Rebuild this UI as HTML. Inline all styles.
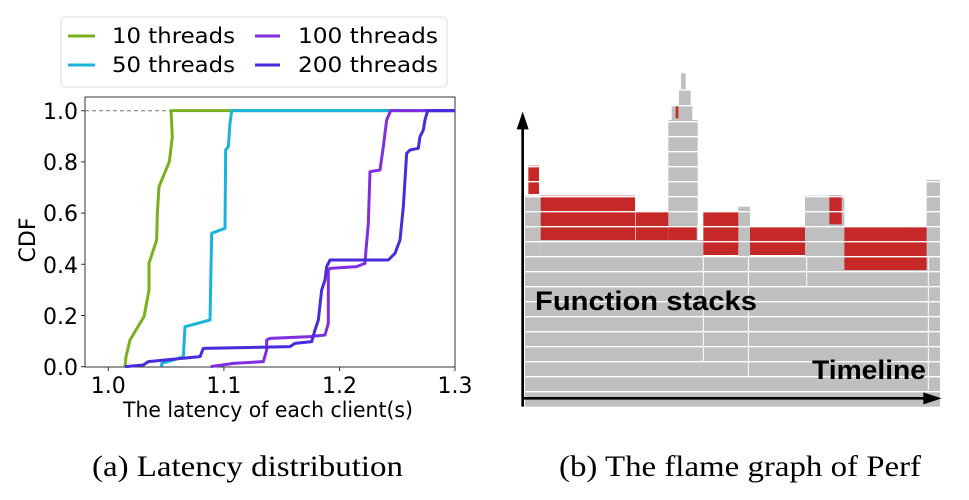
<!DOCTYPE html>
<html><head><meta charset="utf-8"><style>html,body{margin:0;padding:0;background:#fff}svg{display:block}</style></head>
<body>
<svg width="969" height="500" viewBox="0 0 969 500" xmlns="http://www.w3.org/2000/svg">
<g font-family="DejaVu Sans, Liberation Sans, sans-serif" fill="#000">
  <rect x="85" y="97" width="370" height="270" fill="none" stroke="#333" stroke-width="1"/>
  <line x1="85" y1="110.7" x2="455" y2="110.7" stroke="#777" stroke-width="1" stroke-dasharray="4,3"/>
  <g transform="translate(0,90) scale(0.33333)" fill="none" stroke-width="9" stroke-linejoin="round">
    <polyline stroke="#79b01c" points="375,830 378,800 390,750 432,680 447,600 447,520 470,450 472,370 477,290 508,215 517,140 513,62 1365,62"/>
    <polyline stroke="#1bb3d9" points="485,830 485,820 520,810 550,800 555,710 630,690 635,430 675,415 677,180 685,170 690,100 695,62 1365,62"/>
    <polyline stroke="#7f2fe0" points="632,830 700,820 790,815 800,780 800,750 810,745 930,740 975,735 985,700 985,540 990,535 1070,530 1095,520 1098,480 1105,400 1110,245 1140,240 1150,170 1160,90 1172,62 1365,62"/>
    <polyline stroke="#4a2ada" points="375,830 430,825 445,815 600,800 610,775 870,770 885,760 935,755 945,720 955,690 965,600 975,570 980,530 990,510 1165,510 1185,490 1200,450 1210,350 1220,190 1230,180 1255,175 1260,140 1270,120 1275,90 1283,62 1365,62"/>
  </g>
  <g stroke="#333" stroke-width="1">
    <line x1="81" y1="110.7" x2="85" y2="110.7"/><line x1="81" y1="161.9" x2="85" y2="161.9"/>
    <line x1="81" y1="213.1" x2="85" y2="213.1"/><line x1="81" y1="264.3" x2="85" y2="264.3"/>
    <line x1="81" y1="315.5" x2="85" y2="315.5"/><line x1="81" y1="366.7" x2="85" y2="366.7"/>
    <line x1="108.3" y1="367" x2="108.3" y2="371"/><line x1="223.9" y1="367" x2="223.9" y2="371"/>
    <line x1="339.5" y1="367" x2="339.5" y2="371"/><line x1="455" y1="367" x2="455" y2="371"/>
  </g>
  <g font-size="22" text-anchor="end">
    <text x="78" y="119">1.0</text><text x="78" y="170">0.8</text><text x="78" y="221">0.6</text>
    <text x="78" y="273">0.4</text><text x="78" y="324">0.2</text><text x="78" y="375">0.0</text>
  </g>
  <g font-size="22" text-anchor="middle">
    <text x="108.3" y="393">1.0</text><text x="223.9" y="393">1.1</text>
    <text x="339.5" y="393">1.2</text><text x="455" y="393">1.3</text>
    <text x="268" y="417" font-size="21" textLength="290" lengthAdjust="spacingAndGlyphs">The latency of each client(s)</text>
  </g>
  <text font-size="22" text-anchor="middle" transform="translate(35,240) rotate(-90)">CDF</text>
  <rect x="61" y="17" width="386" height="70" rx="4" fill="#fff" stroke="#ddd"/>
  <g stroke-width="3">
    <line x1="68" y1="36" x2="95" y2="36" stroke="#79b01c"/>
    <line x1="68" y1="65" x2="95" y2="65" stroke="#1bb3d9"/>
    <line x1="255" y1="36" x2="280" y2="36" stroke="#7f2fe0"/>
    <line x1="255" y1="65" x2="280" y2="65" stroke="#4a2ada"/>
  </g>
  <g font-size="21">
    <text x="112" y="43" textLength="123" lengthAdjust="spacingAndGlyphs">10 threads</text>
    <text x="112" y="72" textLength="123" lengthAdjust="spacingAndGlyphs">50 threads</text>
    <text x="298" y="43" textLength="140" lengthAdjust="spacingAndGlyphs">100 threads</text>
    <text x="298" y="72" textLength="140" lengthAdjust="spacingAndGlyphs">200 threads</text>
  </g>
</g>
<g transform="translate(510,40) scale(0.33333)">
  <g fill="#bfbfbf">
    <rect x="45" y="650" width="1245" height="450"/>
    <rect x="45" y="467" width="47" height="190"/>
    <rect x="92" y="600" width="488" height="60"/>
    <rect x="475" y="240" width="88" height="420"/>
    <rect x="485" y="195" width="62" height="50"/>
    <rect x="507" y="148" width="35" height="50"/>
    <rect x="513" y="100" width="14" height="50"/>
    <rect x="685" y="500" width="35" height="160"/>
    <rect x="885" y="467" width="118" height="190"/>
    <rect x="1250" y="420" width="40" height="240"/>
  </g>
  <g fill="#c62828">
    <rect x="55" y="377" width="32" height="85"/>
    <rect x="92" y="467" width="283" height="133"/>
    <rect x="377" y="513" width="98" height="87"/>
    <rect x="475" y="558" width="85" height="42"/>
    <rect x="580" y="513" width="105" height="132"/>
    <rect x="720" y="558" width="165" height="87"/>
    <rect x="958" y="467" width="37" height="86"/>
    <rect x="1003" y="558" width="247" height="132"/>
    <rect x="497" y="195" width="8" height="40"/>
  </g>
  <g stroke="#fff" stroke-width="4">
    <line x1="45" y1="1055" x2="1290" y2="1055"/><line x1="45" y1="1010" x2="1290" y2="1010"/>
    <line x1="45" y1="965" x2="1290" y2="965"/><line x1="45" y1="920" x2="1290" y2="920"/>
    <line x1="45" y1="875" x2="1290" y2="875"/><line x1="45" y1="830" x2="1290" y2="830"/>
    <line x1="45" y1="785" x2="1290" y2="785"/><line x1="45" y1="740" x2="1290" y2="740"/>
    <line x1="45" y1="695" x2="1290" y2="695"/><line x1="45" y1="650" x2="1290" y2="650"/>
    <line x1="45" y1="605" x2="1290" y2="605"/><line x1="45" y1="560" x2="1290" y2="560"/>
    <line x1="45" y1="515" x2="1290" y2="515"/><line x1="45" y1="470" x2="1290" y2="470"/>
    <line x1="45" y1="425" x2="1290" y2="425"/><line x1="45" y1="380" x2="1290" y2="380"/>
    <line x1="45" y1="335" x2="1290" y2="335"/><line x1="45" y1="290" x2="1290" y2="290"/>
    <line x1="45" y1="245" x2="1290" y2="245"/><line x1="45" y1="197" x2="1290" y2="197"/>
    <line x1="45" y1="150" x2="1290" y2="150"/>
  </g>
  <g stroke="#fff" stroke-width="3">
    <line x1="715" y1="650" x2="715" y2="1010"/><line x1="580" y1="650" x2="580" y2="965"/>
    <line x1="890" y1="650" x2="890" y2="740"/><line x1="1255" y1="650" x2="1255" y2="1050"/>
  </g>
  <g stroke="#000" stroke-width="8" fill="#000">
    <line x1="38" y1="1100" x2="38" y2="260"/>
    <polygon points="38,215 20,268 56,268" stroke="none"/>
    <line x1="38" y1="1075" x2="1250" y2="1075"/>
    <polygon points="1295,1075 1240,1057 1240,1093" stroke="none"/>
  </g>
</g>
<g font-family="Liberation Sans, Arial, sans-serif" font-weight="bold" fill="#000">
  <text x="535" y="310" font-size="27" textLength="222" lengthAdjust="spacingAndGlyphs">Function stacks</text>
  <text x="812" y="379" font-size="27" textLength="114" lengthAdjust="spacingAndGlyphs">Timeline</text>
</g>
<g font-family="Liberation Serif, Times New Roman, serif" font-size="30" fill="#000">
  <text x="92" y="476" textLength="311" lengthAdjust="spacingAndGlyphs">(a)  Latency distribution</text>
  <text x="559" y="476" textLength="362" lengthAdjust="spacingAndGlyphs">(b)  The flame graph of Perf</text>
</g>
</svg>
</body></html>
